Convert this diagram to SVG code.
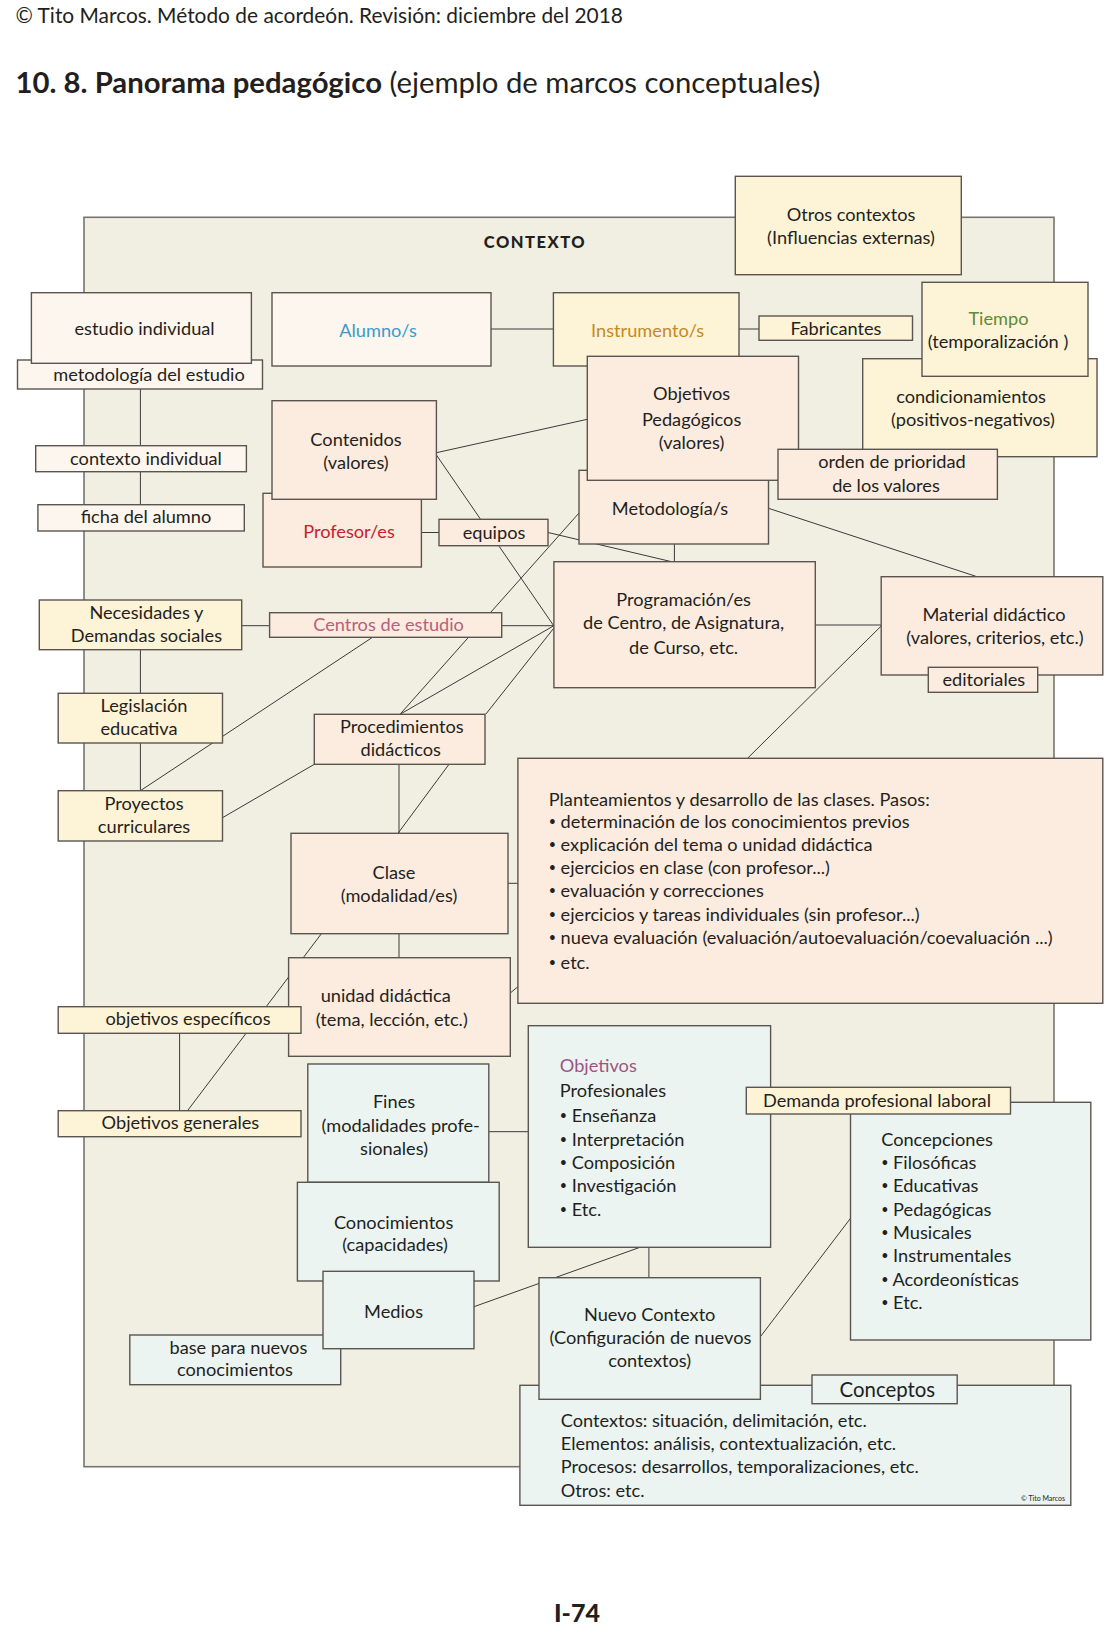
<svg xmlns="http://www.w3.org/2000/svg" width="1106" height="1634" viewBox="0 0 1106 1634">
<style>
.bg{fill:#f1efe1;stroke:#77756e;stroke-width:1.6}
.box{stroke:#5a5550;stroke-width:1.4}
.cream{fill:#fdf6ee}
.peach{fill:#fcebdf}
.yellow{fill:#fdf3d7}
.blue{fill:#ebf4f1}
.ln{stroke:#3a3a3a;stroke-width:1;fill:none}
text{font-family:Lato,"Liberation Sans",sans-serif;font-size:18.2px;fill:#231f20}
.c{text-anchor:middle}
.b{font-size:12.5px}
.blueT{fill:#3a9bcb}
.ochre{fill:#c48a22}
.green{fill:#5f8a35}
.red{fill:#c8202e}
.mauve{fill:#b85f80}
.plum{fill:#9c5581}
</style>
<rect width="1106" height="1634" fill="#ffffff"/>
<text x="15.5" y="22.7" style="font-size:20.9px">© Tito Marcos. Método de acordeón. Revisión: diciembre del 2018</text>
<text x="15.5" y="93.3" style="font-size:29.3px"><tspan font-weight="bold">10. 8. Panorama pedagógico</tspan> (ejemplo de marcos conceptuales)</text>

<g id="contexto">
<rect class="bg" x="84" y="217.3" width="970" height="1249.4"/>
<text x="535" y="247.7" class="c" style="font-size:16.5px;font-weight:900;letter-spacing:1.5px">CONTEXTO</text>
</g>

<g id="connectors">
<line class="ln" x1="140.4" y1="389" x2="140.4" y2="445.7"/>
<line class="ln" x1="140.4" y1="471.7" x2="140.4" y2="504.7"/>
<line class="ln" x1="140.4" y1="649.7" x2="140.4" y2="693.3"/>
<line class="ln" x1="140.4" y1="743" x2="140.4" y2="790.7"/>
<line class="ln" x1="241.7" y1="625.7" x2="269.6" y2="625.7"/>
<line class="ln" x1="501.7" y1="625.7" x2="553.9" y2="625.7"/>
<line class="ln" x1="372.5" y1="637.3" x2="140.4" y2="790.7"/>
<line class="ln" x1="491" y1="329" x2="553.4" y2="329"/>
<line class="ln" x1="739" y1="329" x2="759" y2="329"/>
<line class="ln" x1="436.4" y1="452.7" x2="587.3" y2="419.3"/>
<line class="ln" x1="436.4" y1="455" x2="553.9" y2="626"/>
<line class="ln" x1="421.4" y1="532.5" x2="439" y2="532.5"/>
<line class="ln" x1="548" y1="532.5" x2="671.6" y2="561.7"/>
<line class="ln" x1="674.4" y1="544" x2="674.4" y2="561.7"/>
<line class="ln" x1="579" y1="513" x2="400" y2="714.3"/>
<line class="ln" x1="768.5" y1="508.3" x2="977" y2="576.7"/>
<line class="ln" x1="815.3" y1="625" x2="881.2" y2="625"/>
<line class="ln" x1="881.2" y1="626" x2="747.5" y2="758.3"/>
<line class="ln" x1="553.9" y1="625.7" x2="400" y2="714.3"/>
<line class="ln" x1="553.9" y1="628" x2="485.7" y2="714.3"/>
<line class="ln" x1="314.3" y1="764.3" x2="222.5" y2="817.7"/>
<line class="ln" x1="399" y1="764.3" x2="399" y2="833.3"/>
<line class="ln" x1="449" y1="764.3" x2="398" y2="833.3"/>
<line class="ln" x1="508" y1="883.3" x2="517.9" y2="883.3"/>
<line class="ln" x1="399" y1="933.7" x2="399" y2="957.7"/>
<line class="ln" x1="321.4" y1="933.7" x2="187.5" y2="1110.7"/>
<line class="ln" x1="179.6" y1="1033.3" x2="179.6" y2="1110.7"/>
<line class="ln" x1="510.3" y1="993" x2="517.9" y2="986.7"/>
<line class="ln" x1="488.8" y1="1131.7" x2="528.3" y2="1131.7"/>
<line class="ln" x1="648.9" y1="1247.3" x2="648.9" y2="1277.7"/>
<line class="ln" x1="474" y1="1306.7" x2="640" y2="1247.3"/>
<line class="ln" x1="850.5" y1="1218.3" x2="760.4" y2="1336.7"/>
</g>

<g id="metodologia-estudio"><rect class="box cream" x="17.5" y="360" width="245" height="29"/><text x="149" y="381" class="c">metodología del estudio</text></g>
<g id="estudio-individual"><rect class="box cream" x="31.4" y="292.7" width="220" height="70.6"/><text x="144.6" y="335" class="c">estudio individual</text></g>
<g id="alumno"><rect class="box cream" x="272" y="292.7" width="219" height="73.3"/><text x="378" y="337" class="c blueT">Alumno/s</text></g>
<g id="contexto-individual"><rect class="box cream" x="35.7" y="445.7" width="210.7" height="26"/><text x="146" y="464.5" class="c">contexto individual</text></g>
<g id="ficha"><rect class="box cream" x="37.9" y="504.7" width="206.4" height="26.3"/><text x="146" y="523" class="c">ficha del alumno</text></g>

<g id="profesor"><rect class="box peach" x="263" y="493.3" width="158.4" height="73.7"/><text x="349" y="538" class="c red">Profesor/es</text></g>
<g id="contenidos"><rect class="box peach" x="272" y="400.7" width="164.4" height="98.6"/><text x="356" y="445.5" class="c">Contenidos</text><text x="356" y="468.5" class="c">(valores)</text></g>
<g id="equipos"><rect class="box peach" x="439" y="519.3" width="109" height="26.4"/><text x="494" y="538.5" class="c">equipos</text></g>

<g id="instrumento"><rect class="box yellow" x="553.4" y="292.7" width="185.6" height="73.3"/><text x="647.6" y="337" class="c ochre">Instrumento/s</text></g>
<g id="fabricantes"><rect class="box yellow" x="759" y="316" width="153.5" height="24.3"/><text x="836" y="334.5" class="c">Fabricantes</text></g>
<g id="otros-contextos"><rect class="box yellow" x="735.3" y="176.3" width="226" height="98.4"/><text x="851" y="220.5" class="c">Otros contextos</text><text x="851" y="244" class="c">(Influencias externas)</text></g>
<g id="condicionamientos"><rect class="box yellow" x="862.7" y="358.7" width="234.3" height="98"/><text x="971" y="403" class="c">condicionamientos</text><text x="973" y="426" class="c">(positivos-negativos)</text></g>
<g id="tiempo"><rect class="box yellow" x="922" y="282.3" width="166" height="94"/><text x="998.5" y="324.5" class="c green">Tiempo</text><text x="998" y="347.8" class="c">(temporalización )</text></g>

<g id="metodologias"><rect class="box peach" x="579" y="470.3" width="189.5" height="73.7"/><text x="670" y="514.5" class="c">Metodología/s</text></g>
<g id="objetivos-pedagogicos"><rect class="box peach" x="587.3" y="356.3" width="211.2" height="124"/><text x="691.6" y="399.5" class="c">Objetivos</text><text x="691.6" y="425.5" class="c">Pedagógicos</text><text x="691.6" y="448.5" class="c">(valores)</text></g>
<g id="orden-prioridad"><rect class="box peach" x="778" y="449.3" width="219.4" height="50"/><text x="892" y="467.5" class="c">orden de prioridad</text><text x="886" y="492" class="c">de los valores</text></g>

<g id="programacion"><rect class="box peach" x="553.9" y="561.7" width="261.4" height="126"/><text x="683.6" y="605.5" class="c">Programación/es</text><text x="683.6" y="628.8" class="c">de Centro, de Asignatura,</text><text x="683.6" y="653.8" class="c">de Curso, etc.</text></g>
<g id="material"><rect class="box peach" x="881.2" y="576.7" width="221.6" height="98.3"/><text x="994" y="620.5" class="c">Material didáctico</text><text x="995" y="643.8" class="c">(valores, criterios, etc.)</text></g>
<g id="editoriales"><rect class="box peach" x="928.3" y="667.3" width="109.4" height="25"/><text x="983.8" y="685.5" class="c">editoriales</text></g>

<g id="necesidades"><rect class="box yellow" x="39.3" y="600" width="202.4" height="49.7"/><text x="146.4" y="618.5" class="c">Necesidades y</text><text x="146.4" y="642" class="c">Demandas sociales</text></g>
<g id="centros"><rect class="box peach" x="269.6" y="612.7" width="232.1" height="24.6"/><text x="388.6" y="631" class="c mauve">Centros de estudio</text></g>
<g id="legislacion"><rect class="box yellow" x="58.2" y="693.3" width="164.3" height="49.7"/><text x="144" y="712" class="c">Legislación</text><text x="139" y="734.8" class="c">educativa</text></g>
<g id="proyectos"><rect class="box yellow" x="58.2" y="790.7" width="164.3" height="50.3"/><text x="144" y="809.5" class="c">Proyectos</text><text x="144" y="832.5" class="c">curriculares</text></g>
<g id="procedimientos"><rect class="box peach" x="314.3" y="714.3" width="170.7" height="50"/><text x="401.8" y="733" class="c">Procedimientos</text><text x="400.7" y="755.8" class="c">didácticos</text></g>
<g id="clase"><rect class="box peach" x="291" y="833.3" width="217" height="100.4"/><text x="394" y="878.5" class="c">Clase</text><text x="399" y="901.5" class="c">(modalidad/es)</text></g>

<g id="planteamientos"><rect class="box peach" x="517.9" y="758.3" width="584.9" height="245"/>
<text x="548.7" y="805.5">Planteamientos y desarrollo de las clases. Pasos:</text>
<text x="548.7" y="827.5"><tspan class="b" dy="-1.8">•</tspan><tspan dy="1.8"> determinación de los conocimientos previos</tspan></text>
<text x="548.7" y="850.5"><tspan class="b" dy="-1.8">•</tspan><tspan dy="1.8"> explicación del tema o unidad didáctica</tspan></text>
<text x="548.7" y="873.8"><tspan class="b" dy="-1.8">•</tspan><tspan dy="1.8"> ejercicios en clase (con profesor...)</tspan></text>
<text x="548.7" y="897"><tspan class="b" dy="-1.8">•</tspan><tspan dy="1.8"> evaluación y correcciones</tspan></text>
<text x="548.7" y="920.5"><tspan class="b" dy="-1.8">•</tspan><tspan dy="1.8"> ejercicios y tareas individuales (sin profesor...)</tspan></text>
<text x="548.7" y="943.8"><tspan class="b" dy="-1.8">•</tspan><tspan dy="1.8"> nueva evaluación (evaluación/autoevaluación/coevaluación ...)</tspan></text>
<text x="548.7" y="968.8"><tspan class="b" dy="-1.8">•</tspan><tspan dy="1.8"> etc.</tspan></text>
</g>

<g id="unidad"><rect class="box peach" x="288.6" y="957.7" width="221.7" height="98.6"/><text x="385.7" y="1002" class="c">unidad didáctica</text><text x="391.8" y="1025.5" class="c">(tema, lección, etc.)</text></g>
<g id="objetivos-especificos"><rect class="box yellow" x="58.2" y="1006.7" width="242.8" height="26.6"/><text x="188" y="1024.8" class="c">objetivos específicos</text></g>
<g id="objetivos-generales"><rect class="box yellow" x="58.2" y="1110.7" width="242.8" height="26"/><text x="180.4" y="1128.8" class="c">Objetivos generales</text></g>

<g id="fines"><rect class="box blue" x="307.8" y="1064" width="181" height="118.3"/><text x="394" y="1108" class="c">Fines</text><text x="400.7" y="1131.5" class="c">(modalidades profe-</text><text x="394" y="1154.8" class="c">sionales)</text></g>
<g id="conocimientos"><rect class="box blue" x="297.4" y="1182.3" width="201.8" height="98.7"/><text x="393.6" y="1228.8" class="c">Conocimientos</text><text x="395" y="1251" class="c">(capacidades)</text></g>
<g id="base-nuevos"><rect class="box blue" x="129.8" y="1335" width="210.9" height="49.7"/><text x="238.4" y="1353.8" class="c">base para nuevos</text><text x="235" y="1376" class="c">conocimientos</text></g>
<g id="medios"><rect class="box blue" x="323" y="1271.3" width="151" height="77.4"/><text x="393.6" y="1317.8" class="c">Medios</text></g>

<g id="objetivos-profesionales"><rect class="box blue" x="528.3" y="1025.7" width="242.3" height="221.6"/>
<text x="559.8" y="1071.5" class="plum">Objetivos</text>
<text x="559.8" y="1096.5">Profesionales</text>
<text x="559.8" y="1122"><tspan class="b" dy="-1.8">•</tspan><tspan dy="1.8"> Enseñanza</tspan></text>
<text x="559.8" y="1145.5"><tspan class="b" dy="-1.8">•</tspan><tspan dy="1.8"> Interpretación</tspan></text>
<text x="559.8" y="1168.8"><tspan class="b" dy="-1.8">•</tspan><tspan dy="1.8"> Composición</tspan></text>
<text x="559.8" y="1192"><tspan class="b" dy="-1.8">•</tspan><tspan dy="1.8"> Investigación</tspan></text>
<text x="559.8" y="1215.5"><tspan class="b" dy="-1.8">•</tspan><tspan dy="1.8"> Etc.</tspan></text>
</g>

<g id="concepciones"><rect class="box blue" x="850.5" y="1102.3" width="240.3" height="237.7"/>
<text x="881.2" y="1145.5">Concepciones</text>
<text x="881.2" y="1168.8"><tspan class="b" dy="-1.8">•</tspan><tspan dy="1.8"> Filosóficas</tspan></text>
<text x="881.2" y="1192"><tspan class="b" dy="-1.8">•</tspan><tspan dy="1.8"> Educativas</tspan></text>
<text x="881.2" y="1215.5"><tspan class="b" dy="-1.8">•</tspan><tspan dy="1.8"> Pedagógicas</tspan></text>
<text x="881.2" y="1238.8"><tspan class="b" dy="-1.8">•</tspan><tspan dy="1.8"> Musicales</tspan></text>
<text x="881.2" y="1262"><tspan class="b" dy="-1.8">•</tspan><tspan dy="1.8"> Instrumentales</tspan></text>
<text x="881.2" y="1285.5"><tspan class="b" dy="-1.8">•</tspan><tspan dy="1.8"> Acordeonísticas</tspan></text>
<text x="881.2" y="1308.8"><tspan class="b" dy="-1.8">•</tspan><tspan dy="1.8"> Etc.</tspan></text>
</g>
<g id="demanda"><rect class="box yellow" x="746.3" y="1087.3" width="264.2" height="26.7"/><text x="877" y="1106.5" class="c">Demanda profesional laboral</text></g>

<g id="conceptos"><rect class="box blue" x="519.9" y="1385.3" width="550.9" height="120"/>
<text x="560.8" y="1427">Contextos: situación, delimitación, etc.</text>
<text x="560.8" y="1450.3">Elementos: análisis, contextualización, etc.</text>
<text x="560.8" y="1473">Procesos: desarrollos, temporalizaciones, etc.</text>
<text x="560.8" y="1497">Otros: etc.</text>
<text x="1065" y="1501" style="font-size:7px;text-anchor:end">© Tito Marcos</text>
</g>
<g id="nuevo-contexto"><rect class="box blue" x="539" y="1277.7" width="221.4" height="121.6"/><text x="649.7" y="1321" class="c">Nuevo Contexto</text><text x="650.4" y="1344.3" class="c">(Configuración de nuevos</text><text x="649.7" y="1367" class="c">contextos)</text></g>
<g id="conceptos-label"><rect class="box blue" x="812" y="1375" width="145.2" height="28.7"/><text x="887.4" y="1396.5" class="c" style="font-size:20.4px">Conceptos</text></g>

<text x="577" y="1622" class="c" style="font-size:25px;font-weight:900">I-74</text>
</svg>
